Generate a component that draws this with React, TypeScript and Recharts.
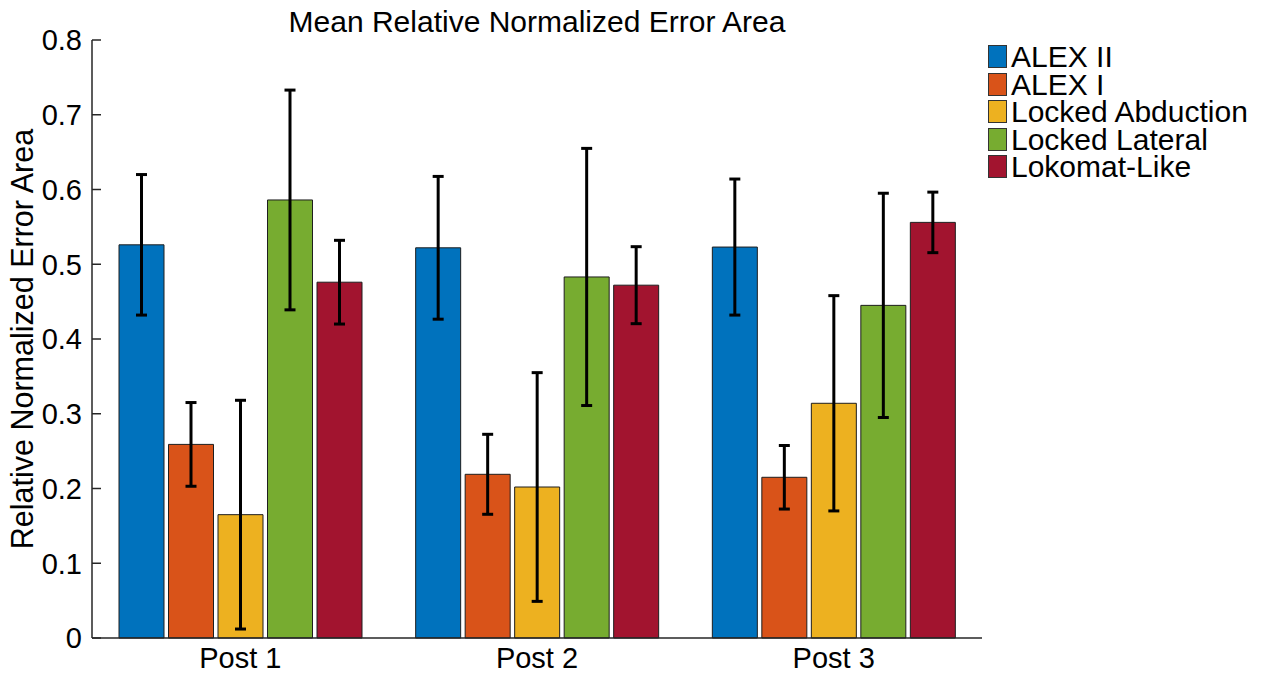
import { BarChart, Bar, XAxis, YAxis, ErrorBar } from "recharts"

const categories = ["Post 1", "Post 2", "Post 3"]
const seriesNames = ["ALEX II", "ALEX I", "Locked Abduction", "Locked Lateral", "Lokomat-Like"]
const seriesColors = ["#0072BD", "#D95319", "#EDB120", "#77AC30", "#A2142F"]

// means and error (± half-range) per session
const alexII = [0.526, 0.522, 0.523]
const alexIIErr = [0.094, 0.0955, 0.091]
const alexI = [0.259, 0.219, 0.215]
const alexIErr = [0.056, 0.0535, 0.0425]
const lockedAbduction = [0.165, 0.202, 0.314]
const lockedAbductionErr = [0.153, 0.153, 0.144]
const lockedLateral = [0.586, 0.483, 0.445]
const lockedLateralErr = [0.147, 0.172, 0.15]
const lokomatLike = [0.476, 0.472, 0.556]
const lokomatLikeErr = [0.056, 0.0515, 0.0405]

const yTicks = [0, 0.1, 0.2, 0.3, 0.4, 0.5, 0.6, 0.7, 0.8]

const seriesValues = [alexII, alexI, lockedAbduction, lockedLateral, lokomatLike]
const seriesErrors = [alexIIErr, alexIErr, lockedAbductionErr, lockedLateralErr, lokomatLikeErr]

const chartData = categories.map((name, i) => {
  const row: Record<string, string | number> = { name }
  seriesValues.forEach((vals, s) => {
    row[`s${s}`] = vals[i]
    row[`s${s}Err`] = seriesErrors[s][i]
  })
  return row
})

const font = '"Liberation Sans", Arial, Helvetica, sans-serif'
const axisColor = "#262626"

export default function App() {
  return (
    <div style={{ position: "absolute", left: 0, top: 0, width: 1262, height: 674, fontFamily: font, background: "#fff" }}>
      <BarChart
        width={1262}
        height={674}
        data={chartData}
        margin={{ top: 40, right: 280, left: 0, bottom: 0 }}
        barCategoryGap={27}
        barGap={4.5}
      >
        <XAxis
          dataKey="name"
          tickLine={false}
          tickSize={0}
          tickMargin={9}
          height={36}
          axisLine={{ stroke: axisColor, strokeWidth: 1.5 }}
          tick={{ fill: "#000", fontSize: 29, fontFamily: font }}
        />
        <YAxis
          domain={[0, 0.8]}
          ticks={yTicks}
          width={92}
          tickSize={-9}
          tickMargin={19}
          interval={0}
          axisLine={{ stroke: axisColor, strokeWidth: 1.5 }}
          tickLine={{ stroke: axisColor, strokeWidth: 1.5 }}
          tick={{ fill: "#000", fontSize: 29, fontFamily: font }}
          tickFormatter={(v: number) => String(v)}
        />
        {seriesNames.map((n, s) => (
          <Bar
            key={n}
            dataKey={`s${s}`}
            name={n}
            fill={seriesColors[s]}
            stroke="#1e1e1e"
            strokeWidth={1}
            isAnimationActive={false}
          >
            <ErrorBar dataKey={`s${s}Err`} width={5.5} stroke="#000" strokeWidth={3} direction="y" />
          </Bar>
        ))}
      </BarChart>

      <svg width={1262} height={674} style={{ position: "absolute", left: 0, top: 0, pointerEvents: "none" }}>
        <text x={537} y={32} textAnchor="middle" fontSize={30} fontFamily={font} fill="#000">
          Mean Relative Normalized Error Area
        </text>
        <text
          transform="translate(33,339) rotate(-90)"
          textAnchor="middle"
          fontSize={30.5}
          fontFamily={font}
          fill="#000"
        >
          Relative Normalized Error Area
        </text>
      </svg>

      <div style={{ position: "absolute", left: 988, top: 43 }}>
        {seriesNames.map((n, s) => (
          <div key={n} style={{ display: "flex", alignItems: "center", height: 27.5 }}>
            <div
              style={{
                width: 17,
                height: 21,
                background: seriesColors[s],
                border: "1px solid #333",
                marginRight: 4,
              }}
            />
            <span style={{ fontSize: 30, lineHeight: "27.5px", color: "#000", whiteSpace: "nowrap" }}>{n}</span>
          </div>
        ))}
      </div>
    </div>
  )
}
